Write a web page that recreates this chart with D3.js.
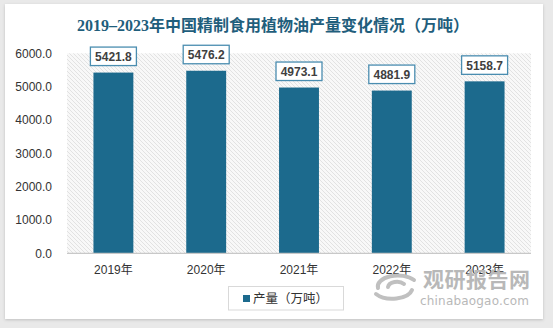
<!DOCTYPE html>
<html><head><meta charset="utf-8">
<script src="https://cdn.jsdelivr.net/npm/d3@7"></script>
<style>
html,body{margin:0;padding:0;background:#e9e9e9;}
svg{display:block;}
</style></head>
<body>
<script>
const categories = ["2019年","2020年","2021年","2022年","2023年"];
const values = [5421.8, 5476.2, 4973.1, 4881.9, 5158.7];
const yTicks = [0, 1000, 2000, 3000, 4000, 5000, 6000];
const title = "2019–2023年中国精制食用植物油产量变化情况（万吨）";
const legendLabel = "产量（万吨）";

const W = 553, H = 328;
const svg = d3.select("body").append("svg").attr("width", W).attr("height", H);
const defs = svg.append("defs");
const f = defs.append("filter").attr("id","sh").attr("x","-5%").attr("y","-5%").attr("width","110%").attr("height","110%");
f.append("feDropShadow").attr("dx",0).attr("dy",1).attr("stdDeviation",1.5).attr("flood-color","#000").attr("flood-opacity",0.18);
const pat = defs.append("pattern").attr("id","hatch").attr("patternUnits","userSpaceOnUse")
  .attr("width",4).attr("height",4);
pat.append("rect").attr("width",4).attr("height",4).attr("fill","#f8f8f8");
pat.append("path").attr("d","M-1,-1 L5,5 M-1,3 L1,5 M3,-1 L5,1").attr("stroke","#e0e0e0").attr("stroke-width",0.9);

svg.append("rect").attr("x",0).attr("y",0).attr("width",W).attr("height",H).attr("fill","#e9e9e9");
svg.append("rect").attr("x",5).attr("y",4).attr("width",538).attr("height",315).attr("fill","#fff").attr("filter","url(#sh)");

const x = d3.scaleBand().domain(categories).range([67, 531]).paddingInner(0.57).paddingOuter(0.285);
const y = d3.scaleLinear().domain([0, 6000]).range([253.3, 53.3]);

svg.append("rect").attr("x",67).attr("y",y(6000)).attr("width",464).attr("height",y(0)-y(6000)).attr("fill","url(#hatch)");

svg.append("text").attr("x",273).attr("y",31).attr("text-anchor","middle")
  .attr("font-family","'Liberation Serif','Noto Sans CJK SC',serif").attr("font-weight","bold")
  .attr("font-size",16).attr("fill","#1f5e7c").text(title);

// y axis
const yAxis = d3.axisLeft(y).tickValues(yTicks).tickFormat(d3.format(".1f")).tickSize(0).tickPadding(0);
const gy = svg.append("g").attr("transform","translate(52,0)").call(yAxis);
gy.select(".domain").remove();
gy.selectAll("text").attr("font-family","'Liberation Sans',Arial,sans-serif").attr("font-size",12).attr("fill","#333");

// bars
svg.selectAll(".bar").data(values).enter().append("rect")
  .attr("x",(d,i)=>x(categories[i])).attr("y",d=>y(d))
  .attr("width",x.bandwidth()).attr("height",d=>y(0)-y(d)).attr("fill","#1c6a8d");

// baseline
svg.append("line").attr("x1",67).attr("x2",531).attr("y1",y(0)).attr("y2",y(0)).attr("stroke","#c8c8c8").attr("stroke-width",1.2);

// x axis
const xAxis = d3.axisBottom(x).tickSize(0).tickPadding(0);
const gx = svg.append("g").attr("transform","translate(0,"+(y(0)+12)+")").call(xAxis);
gx.select(".domain").remove();
gx.selectAll("text").attr("font-family","'Liberation Sans','Noto Sans CJK SC',sans-serif").attr("font-size",12).attr("fill","#333");

// value labels
const lab = svg.selectAll(".lab").data(values).enter().append("g")
  .attr("transform",(d,i)=>"translate("+(x(categories[i])+x.bandwidth()/2)+","+(y(d)-7)+")");
lab.append("rect").attr("x",-23).attr("y",-18.5).attr("width",46).attr("height",18.5)
  .attr("fill","#fff").attr("stroke","#4a8db0").attr("stroke-width",1.3);
lab.append("text").attr("x",0).attr("y",-4.8).attr("text-anchor","middle")
  .attr("font-family","'Liberation Sans',Arial,sans-serif").attr("font-weight","bold").attr("font-size",12)
  .attr("fill","#404040").text(d=>d3.format(".1f")(d));

// watermark
const wm = svg.append("g").attr("fill","#b8b8b8");
wm.append("text").attr("x",423).attr("y",287).attr("font-family","'Noto Sans CJK SC',sans-serif").attr("font-weight","bold")
  .attr("font-size",21).attr("textLength",107).text("观研报告网");
wm.append("text").attr("x",420).attr("y",304.5).attr("font-family","'DejaVu Sans',sans-serif")
  .attr("font-size",12).attr("textLength",109).text("chinabaogao.com");
const lg = svg.append("g").attr("fill","none").attr("stroke","#c0c0c0").attr("stroke-width",4).attr("stroke-linecap","round");
lg.append("path").attr("d","M378,288 A20,11 0 0 1 414,280");
lg.append("path").attr("d","M412,290 A20,11 0 0 1 376,294");
lg.append("path").attr("d","M388,287 A9,6 0 0 1 404,284");

// legend
svg.append("rect").attr("x",228.5).attr("y",286.5).attr("width",115).attr("height",23.5)
  .attr("fill","#fff").attr("stroke","#d9d9d9").attr("stroke-width",1);
svg.append("rect").attr("x",243).attr("y",295).attr("width",7).attr("height",7).attr("fill","#1c6a8d");
svg.append("text").attr("x",253).attr("y",303).attr("font-family","'Noto Sans CJK SC',sans-serif")
  .attr("font-size",12.5).attr("fill","#333").text(legendLabel);
</script>
</body></html>
